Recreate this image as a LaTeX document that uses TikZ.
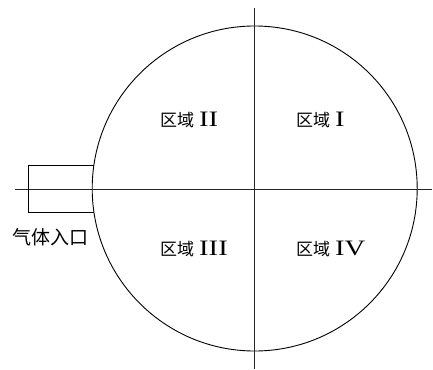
\documentclass[tikz,border=0pt]{standalone}
\usepackage{fontspec}
\newfontfamily\cjk{Noto Sans CJK SC}
\newfontfamily\rmn{Liberation Serif}
\newcommand{\zone}[1]{{\cjk 区域}\hspace{5pt}{\rmn\fontsize{22}{22}\selectfont\scalebox{1.3}[1]{#1}}}
\begin{document}
\begin{tikzpicture}[x=1pt,y=-1pt,
  lbl/.style={anchor=west,inner sep=0pt,font=\cjk\fontsize{17}{17}\selectfont},
  ln/.style={line width=0.8pt,black!85}]
\useasboundingbox (0,0) rectangle (433,369);
\node[circle,draw,line width=0.9pt,minimum size=325pt,inner sep=0pt] (c) at (254.7,188.5) {};
\coordinate (vt) at (254.7,8);
\coordinate (vb) at (254.7,369);
\coordinate (hl) at (15,189);
\coordinate (hr) at (432,189);
\draw[ln] (vt) -- (vb);
\draw[ln] (hl) -- (hr);
\coordinate (rtr) at (93.9,165);
\coordinate (rtl) at (28.5,165);
\coordinate (rbl) at (28.5,212);
\coordinate (rbr) at (93.9,212);
\draw[line width=0.8pt] (rtr) -- (rtl) -- (rbl) -- (rbr);
\node[lbl] (z2) at (160,120) {\zone{II}};
\node[lbl] (z1) at (296,120) {\zone{I}};
\node[lbl] (z3) at (160,249) {\zone{III}};
\node[lbl] (z4) at (296,249) {\zone{IV}};
\node[anchor=west,inner sep=0pt,font=\cjk\fontsize{19}{19}\selectfont] (gas) at (12,237) {气体入口};
\end{tikzpicture}
\end{document}
